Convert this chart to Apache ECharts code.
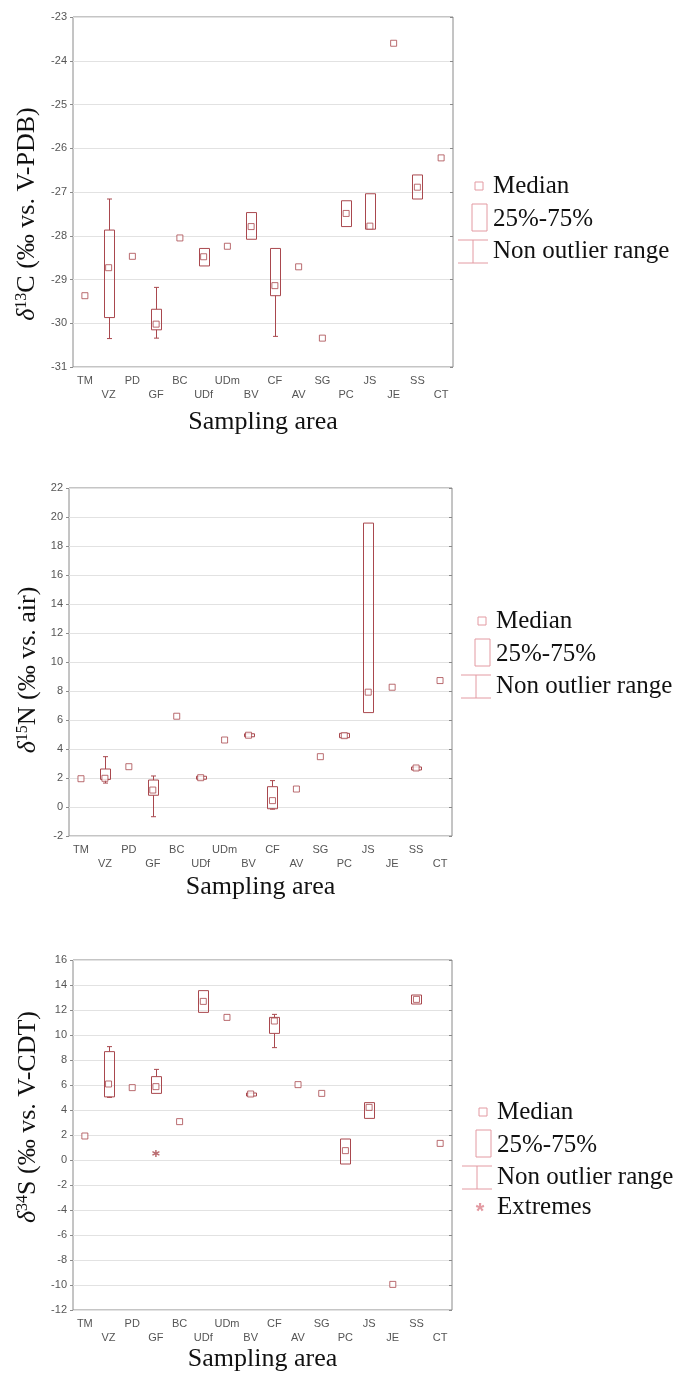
<!DOCTYPE html>
<html>
<head>
<meta charset="utf-8">
<script src="https://cdn.jsdelivr.net/npm/echarts@6/dist/echarts.min.js"></script>
<style>
  html, body { margin: 0; padding: 0; background: #fff; }
  #chart { width: 687px; height: 1376px; }
</style>
</head>
<body>
<div id="chart"></div>
<script>
  // sampling areas (x axis, same for the three panels)
  var categories = ['TM','VZ','PD','GF','BC','UDf','UDm','BV','CF','AV','SG','PC','JS','JE','SS','CT'];

  // d13C, % vs V-PDB
  var c13Median = [-29.37,-28.73,-28.47,-30.02,-28.05,-28.48,-28.24,-27.79,-29.14,-28.71,-30.34,-27.49,-27.78,-23.60,-26.89,-26.22];
  var c13Q1     = [null,-29.87,null,-30.15,null,-28.69,null,-28.08,-29.37,null,null,-27.79,-27.85,null,-27.16,null];
  var c13Q3     = [null,-27.87,null,-29.68,null,-28.29,null,-27.47,-28.29,null,null,-27.20,-27.04,null,-26.61,null];
  var c13Low    = [null,-30.35,null,-30.34,null,null,null,null,-30.30,null,null,null,null,null,null,null];
  var c13High   = [null,-27.16,null,-29.18,null,null,null,null,null,null,null,null,null,null,null,null];

  // d15N, % vs air
  var n15Median = [1.95,1.98,2.78,1.17,6.26,2.02,4.62,4.95,0.44,1.24,3.47,4.92,7.92,8.26,2.69,8.72];
  var n15Q1     = [null,1.90,null,0.81,null,1.95,null,4.85,-0.12,null,null,4.78,6.51,null,2.62,null];
  var n15Q3     = [null,2.62,null,1.86,null,2.12,null,5.05,1.40,null,null,5.08,19.58,null,2.76,null];
  var n15Low    = [null,1.65,null,-0.67,null,null,null,null,-0.15,null,null,null,null,null,null,null];
  var n15High   = [null,3.47,null,2.14,null,null,null,null,1.82,null,null,null,null,null,null,null];

  // d34S, % vs V-CDT
  var s34Median = [1.92,6.08,5.79,5.87,3.07,12.69,11.41,5.28,11.12,6.03,5.33,0.75,4.21,-9.95,12.85,1.33];
  var s34Q1     = [null,5.05,null,5.33,null,11.81,null,5.20,10.13,null,null,-0.32,3.33,null,12.48,null];
  var s34Q3     = [null,8.67,null,6.67,null,13.55,null,5.36,11.41,null,null,1.68,4.59,null,13.20,null];
  var s34Low    = [null,5.01,null,null,null,null,null,null,8.99,null,null,null,null,null,null,null];
  var s34High   = [null,9.07,null,7.25,null,null,null,null,11.65,null,null,null,null,null,null,null];
  var s34Extreme = [null,null,null,0.53,null,null,null,null,null,null,null,null,null,null,null,null];

  var BOX_COLOR = '#a9484e';
  var LEG_COLOR = '#e39aa2';
  var SERIF = '"Liberation Serif", "Times New Roman", serif';
  var SANS = '"Liberation Sans", Arial, sans-serif';

  var panels = [
    { median: c13Median, q1: c13Q1, q3: c13Q3, low: c13Low, high: c13High,
      min: -31, max: -23, interval: 1, left: 73, top: 17, width: 380, height: 350, nameGap: 42,
      yname: '{d|δ}{s|13}C (‰ vs. V-PDB)', ynameX: 27, ynameY: 214, legX: 493, legY: 186 },
    { median: n15Median, q1: n15Q1, q3: n15Q3, low: n15Low, high: n15High,
      min: -2, max: 22, interval: 2, left: 69, top: 488, width: 383, height: 348, nameGap: 38,
      yname: '{d|δ}{s|15}N (‰ vs. air)', ynameX: 28, ynameY: 670, legX: 496, legY: 621 },
    { median: s34Median, q1: s34Q1, q3: s34Q3, low: s34Low, high: s34High, extreme: s34Extreme,
      min: -12, max: 16, interval: 2, left: 73, top: 960, width: 379, height: 350, nameGap: 31,
      yname: '{d|δ}{s|34}S (‰ vs. V-CDT)', ynameX: 28, ynameY: 1117, legX: 497, legY: 1112 }
  ];

  function boxRenderer(p) {
    return function (params, api) {
      var i = params.dataIndex;
      var hw = 5, cap = 2.5;
      var line = { stroke: BOX_COLOR, lineWidth: 1 };
      var kids = [];
      if (p.q1[i] == null) return { type: 'group', children: [] };
      var a = api.coord([i, p.q3[i]]);
      var b = api.coord([i, p.q1[i]]);
      var x = Math.round(a[0]) + 0.5;
      if (p.high[i] != null) {
        var h = api.coord([i, p.high[i]]);
        kids.push({ type: 'line', shape: { x1: x, y1: a[1], x2: x, y2: h[1] }, style: line });
        kids.push({ type: 'line', shape: { x1: x - cap, y1: h[1], x2: x + cap, y2: h[1] }, style: line });
      }
      if (p.low[i] != null) {
        var l = api.coord([i, p.low[i]]);
        kids.push({ type: 'line', shape: { x1: x, y1: b[1], x2: x, y2: l[1] }, style: line });
        kids.push({ type: 'line', shape: { x1: x - cap, y1: l[1], x2: x + cap, y2: l[1] }, style: line });
      }
      kids.push({
        type: 'rect',
        shape: { x: x - hw, y: a[1], width: hw * 2, height: Math.max(b[1] - a[1], 3) },
        style: { stroke: BOX_COLOR, fill: 'none', lineWidth: 1 }
      });
      return { type: 'group', children: kids };
    };
  }

  function legend(tx, ty, extremes) {
    var st = { stroke: LEG_COLOR, fill: 'none', lineWidth: 1 };
    var txt = function (t, y) {
      return { type: 'text', x: tx, y: y, style: { text: t, font: '25px ' + SERIF, fill: '#111', verticalAlign: 'middle' } };
    };
    var els = [
      { type: 'rect', shape: { x: tx - 18, y: ty - 4, width: 8, height: 8 }, style: st },
      txt('Median', ty),
      { type: 'rect', shape: { x: tx - 21, y: ty + 18, width: 15, height: 27 }, style: st },
      txt('25%-75%', ty + 33),
      { type: 'line', shape: { x1: tx - 35, y1: ty + 54, x2: tx - 5, y2: ty + 54 }, style: st },
      { type: 'line', shape: { x1: tx - 20, y1: ty + 54, x2: tx - 20, y2: ty + 77 }, style: st },
      { type: 'line', shape: { x1: tx - 35, y1: ty + 77, x2: tx - 5, y2: ty + 77 }, style: st },
      txt('Non outlier range', ty + 65)
    ];
    if (extremes) {
      els.push({ type: 'text', x: tx - 17, y: ty + 100, style: { text: '*', font: 'bold 22px ' + SANS, fill: LEG_COLOR, align: 'center', verticalAlign: 'middle' } });
      els.push(txt('Extremes', ty + 95));
    }
    return els;
  }

  var grid = [], xAxis = [], yAxis = [], series = [], graphic = [];
  var axisGray = '#8a8a8a';

  panels.forEach(function (p, g) {
    grid.push({ left: p.left, top: p.top, width: p.width, height: p.height, show: true,
      borderColor: axisGray, borderWidth: 1, backgroundColor: '#fff' });
    xAxis.push({
      type: 'category', gridIndex: g, data: categories, position: 'bottom',
      axisLine: { show: false },
      axisTick: { inside: true, length: 3, alignWithLabel: true, lineStyle: { color: axisGray } },
      axisLabel: {
        interval: 0, color: '#555', fontFamily: SANS, fontSize: 11, lineHeight: 14, margin: 7,
        formatter: function (v, i) { return i % 2 ? '\n' + v : v; }
      },
      name: 'Sampling area', nameLocation: 'middle', nameGap: p.nameGap,
      nameTextStyle: { fontFamily: SERIF, fontSize: 26, color: '#111' }
    });
    xAxis.push({
      type: 'category', gridIndex: g, data: categories, position: 'top',
      axisLine: { show: false }, axisLabel: { show: false },
      axisTick: { inside: true, length: 3, alignWithLabel: true, lineStyle: { color: axisGray } }
    });
    yAxis.push({
      type: 'value', gridIndex: g, min: p.min, max: p.max, interval: p.interval,
      axisLine: { show: false },
      axisTick: { show: true, length: 3, lineStyle: { color: axisGray } },
      axisLabel: { color: '#555', fontFamily: SANS, fontSize: 11, margin: 6 },
      splitLine: { lineStyle: { color: '#e2e2e2' } }
    });
    yAxis.push({
      type: 'value', gridIndex: g, min: p.min, max: p.max, interval: p.interval, position: 'right',
      axisLine: { show: false }, axisLabel: { show: false }, splitLine: { show: false },
      axisTick: { show: true, inside: true, length: 3, lineStyle: { color: axisGray } }
    });

    series.push({
      type: 'custom', xAxisIndex: 2 * g, yAxisIndex: 2 * g,
      renderItem: boxRenderer(p),
      data: categories.map(function (c, i) { return [i, p.median[i]]; }),
      silent: true, z: 2
    });
    series.push({
      type: 'scatter', xAxisIndex: 2 * g, yAxisIndex: 2 * g,
      data: p.median, symbol: 'rect', symbolSize: 6,
      itemStyle: { color: '#fff', borderColor: BOX_COLOR, borderWidth: 1 },
      silent: true, z: 3
    });
    if (p.extreme) {
      series.push({
        type: 'scatter', xAxisIndex: 2 * g, yAxisIndex: 2 * g,
        data: p.extreme, symbol: 'path://M0,-5L0,5M-4.3,-2.5L4.3,2.5M-4.3,2.5L4.3,-2.5', symbolSize: 7,
        itemStyle: { color: 'none', borderColor: BOX_COLOR, borderWidth: 1.5 },
        silent: true, z: 3
      });
    }

    graphic.push({
      type: 'text', x: p.ynameX, y: p.ynameY, rotation: Math.PI / 2,
      style: {
        text: p.yname, font: '26px ' + SERIF, fill: '#111', align: 'center', verticalAlign: 'middle',
        rich: {
          d: { fontFamily: SERIF, fontSize: 26, fontStyle: 'italic', fill: '#111' },
          s: { fontFamily: SERIF, fontSize: 16, fill: '#111', verticalAlign: 'bottom', padding: [0, 0, 10, 0] }
        }
      }
    });
    graphic = graphic.concat(legend(p.legX, p.legY, !!p.extreme));
  });

  var chart = echarts.init(document.getElementById('chart'), null, { renderer: 'canvas' });
  chart.setOption({
    backgroundColor: '#fff',
    animation: false,
    grid: grid,
    xAxis: xAxis,
    yAxis: yAxis,
    series: series,
    graphic: graphic
  });
</script>
</body>
</html>
